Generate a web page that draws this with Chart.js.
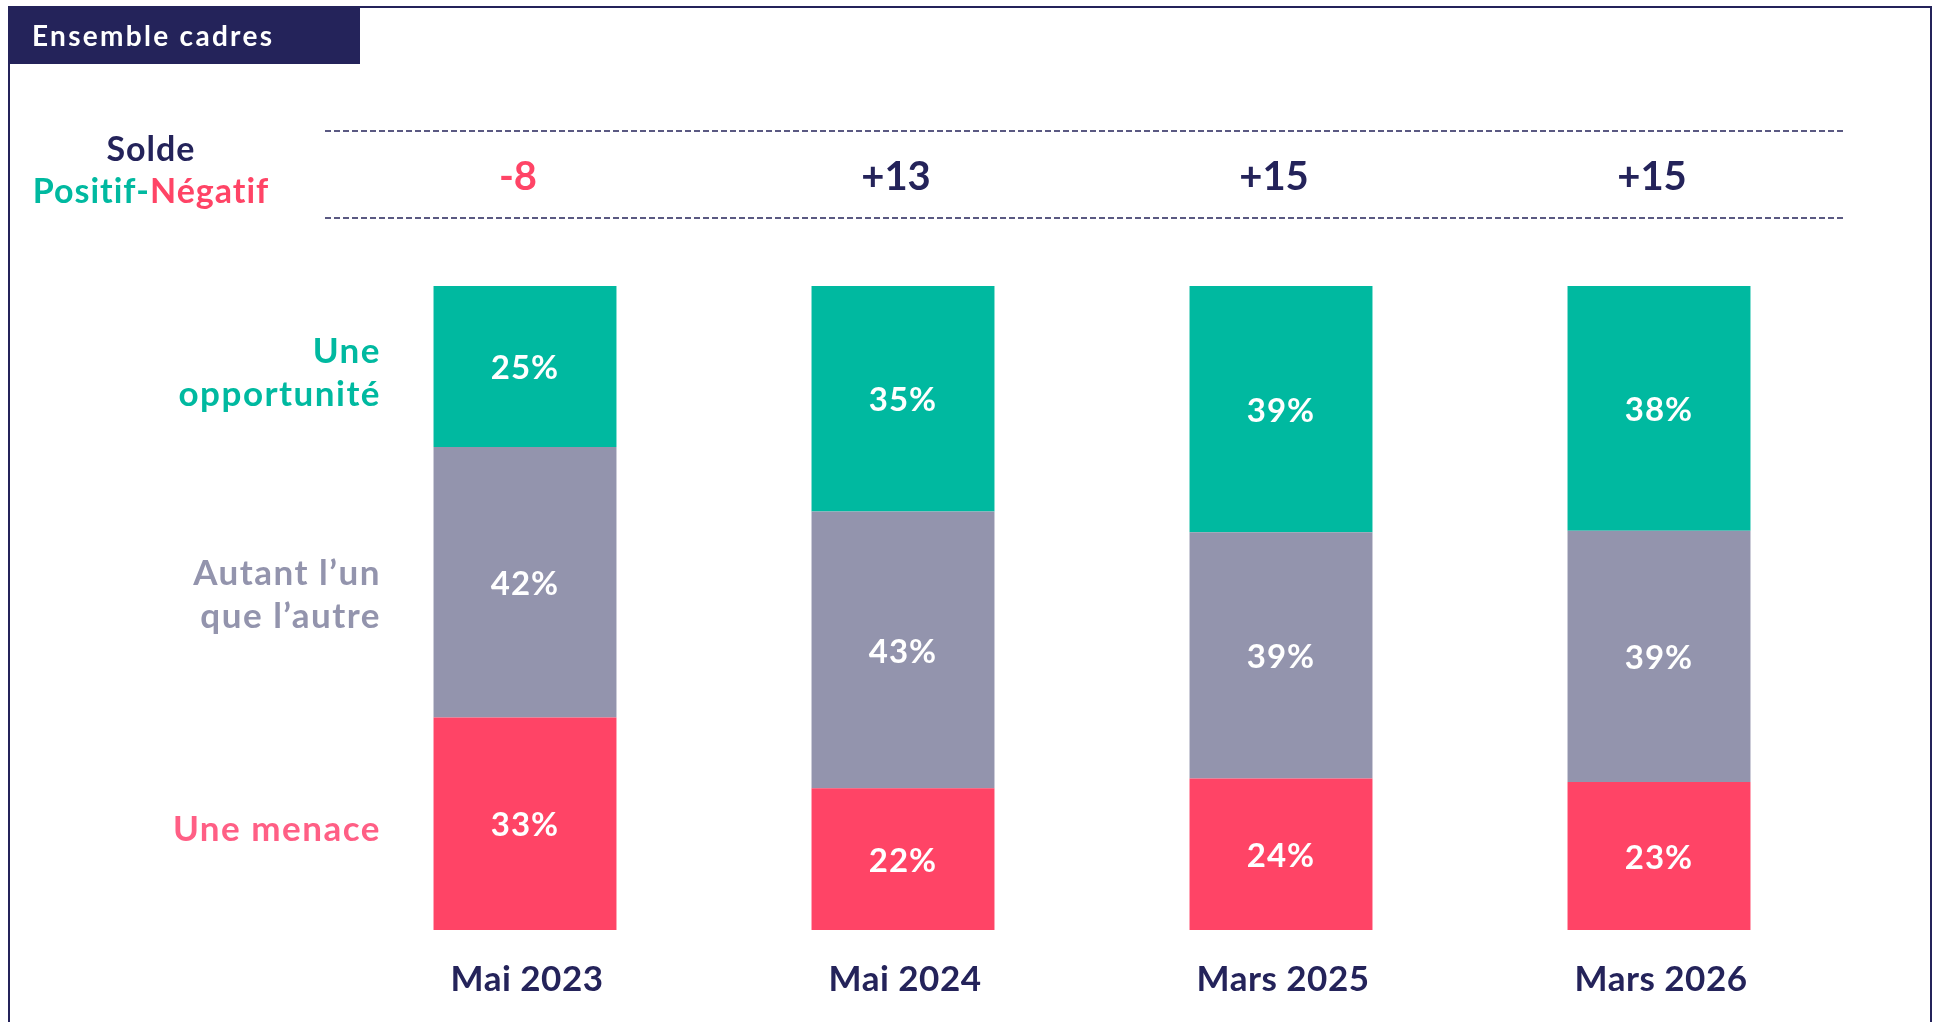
<!DOCTYPE html>
<html lang="fr">
<head>
<meta charset="utf-8">
<title>Ensemble cadres</title>
<script src="https://cdn.jsdelivr.net/npm/chart.js@4"></script>
<style>
  html, body { margin: 0; padding: 0; background: #fff; }
  #chart { display: block; }
</style>
</head>
<body>
<canvas id="chart" width="1939" height="1022"></canvas>
<script>
// Données
const categories = ['Mai 2023', 'Mai 2024', 'Mars 2025', 'Mars 2026'];
const opportunite = [25, 35, 39, 38];
const autant = [42, 43, 39, 39];
const menace = [33, 22, 24, 23];
const solde = [-8, 13, 15, 15];

const NAVY = '#24235a';
const GREEN = '#00b9a0';
const GREY = '#9394ad';
const RED = '#ff4466';
const PINK = '#ff5f85';
const FONT = "'Lato', 'DejaVu Sans', sans-serif";

// 100 % empilé : chaque colonne ramenée à 100
const totals = categories.map((_, i) => opportunite[i] + autant[i] + menace[i]);
const share = arr => arr.map((v, i) => v / totals[i] * 100);

/** Cadre, bandeau et textes autour des barres */
const decorPlugin = {
  id: 'decor',
  beforeDraw(chart) {
    const { ctx, width, height } = chart;
    ctx.save();
    ctx.fillStyle = '#fff';
    ctx.fillRect(0, 0, width, height);

    // cadre
    ctx.strokeStyle = NAVY;
    ctx.lineWidth = 2;
    ctx.strokeRect(9, 7, 1922, height + 20);

    // bandeau titre
    ctx.fillStyle = NAVY;
    ctx.fillRect(9, 7, 351, 57);
    ctx.fillStyle = '#fff';
    ctx.font = `bold 28px ${FONT}`;
    ctx.letterSpacing = '2.3px';
    ctx.textBaseline = 'middle';
    ctx.textAlign = 'left';
    ctx.fillText('Ensemble cadres', 32, 37);
    ctx.restore();
  },
  afterDatasetsDraw(chart) {
    const { ctx } = chart;
    const x = chart.scales.x;
    ctx.save();
    ctx.textBaseline = 'middle';

    // valeurs dans les barres
    ctx.fillStyle = '#fff';
    ctx.textAlign = 'center';
    ctx.font = `bold 33px ${FONT}`;
    ctx.letterSpacing = '1px';
    chart.data.datasets.forEach((ds, di) => {
      chart.getDatasetMeta(di).data.forEach((bar, i) => {
        const c = bar.getCenterPoint();
        ctx.fillText(ds.raw[i] + '%', c.x, c.y + 2);
      });
    });

    // libellés des colonnes
    ctx.fillStyle = NAVY;
    ctx.font = `bold 35px ${FONT}`;
    ctx.letterSpacing = '0.5px';
    categories.forEach((c, i) => ctx.fillText(c, x.getPixelForValue(i) + 2, 980));

    // ligne du solde
    ctx.strokeStyle = NAVY;
    ctx.lineWidth = 1.5;
    ctx.setLineDash([6, 3]);
    [131, 218].forEach(y => {
      ctx.beginPath();
      ctx.moveTo(325, y);
      ctx.lineTo(1845, y);
      ctx.stroke();
    });
    ctx.setLineDash([]);

    ctx.font = `bold 40px ${FONT}`;
    ctx.letterSpacing = '0px';
    solde.forEach((s, i) => {
      ctx.fillStyle = s < 0 ? RED : NAVY;
      ctx.fillText((s > 0 ? '+' : '') + s, x.getPixelForValue(i) - 7, 177);
    });

    ctx.font = `bold 34px ${FONT}`;
    ctx.letterSpacing = '1px';
    ctx.fillStyle = NAVY;
    ctx.fillText('Solde', 151, 150);
    const a = 'Positif-', b = 'Négatif';
    const wa = ctx.measureText(a).width, wb = ctx.measureText(b).width;
    const x0 = 151 - (wa + wb) / 2;
    ctx.textAlign = 'left';
    ctx.fillStyle = GREEN;
    ctx.fillText(a, x0, 192);
    ctx.fillStyle = RED;
    ctx.fillText(b, x0 + wa, 192);

    // légende à gauche, alignée sur la première colonne
    ctx.textAlign = 'right';
    ctx.font = `bold 35px ${FONT}`;
    ctx.letterSpacing = '1.5px';
    chart.data.datasets.forEach((ds, di) => {
      const c = chart.getDatasetMeta(di).data[0].getCenterPoint();
      const lines = ds.legendLines;
      const lh = 43;
      const top = c.y + ds.legendDy - (lines.length - 1) * lh / 2;
      ctx.fillStyle = ds.legendColor;
      lines.forEach((l, k) => ctx.fillText(l, 381, top + k * lh));
    });
    ctx.restore();
  },
};

new Chart(document.getElementById('chart'), {
  type: 'bar',
  data: {
    labels: categories,
    datasets: [
      { label: 'Une menace', data: share(menace), raw: menace, backgroundColor: RED,
        legendLines: ['Une menace'], legendColor: PINK, legendDy: 6 },
      { label: 'Autant l’un que l’autre', data: share(autant), raw: autant, backgroundColor: GREY,
        legendLines: ['Autant l’un', 'que l’autre'], legendColor: GREY, legendDy: 13 },
      { label: 'Une opportunité', data: share(opportunite), raw: opportunite, backgroundColor: GREEN,
        legendLines: ['Une', 'opportunité'], legendColor: GREEN, legendDy: 7 },
    ],
  },
  options: {
    responsive: false,
    animation: false,
    devicePixelRatio: 1,
    layout: { padding: { left: 336, right: 91, top: 286, bottom: 92 } },
    datasets: { bar: { categoryPercentage: 1, barPercentage: 0.484, borderWidth: 0 } },
    plugins: { legend: { display: false }, tooltip: { enabled: false } },
    scales: {
      x: { stacked: true, display: false },
      y: { stacked: true, display: false, min: 0, max: 100 },
    },
  },
  plugins: [decorPlugin],
});
</script>
</body>
</html>
